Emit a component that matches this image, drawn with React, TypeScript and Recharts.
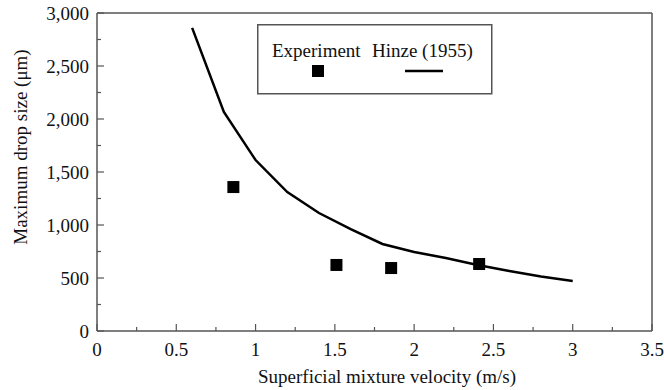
import { ComposedChart, Line, Scatter, XAxis, YAxis, ReferenceLine } from 'recharts';

// Hinze (1955) correlation curve
const hinzeVelocity = [0.6, 0.8, 1.0, 1.2, 1.4, 1.6, 1.8, 2.0, 2.2, 2.4, 2.6, 2.8, 3.0];
const hinzeSize = [2860, 2066, 1613, 1311, 1113, 962, 821, 745, 689, 623, 566, 515, 472];

// measured points
const expVelocity = [0.86, 1.51, 1.855, 2.41];
const expSize = [1358, 623, 594, 632];

const xTicks = [0, 0.25, 0.5, 0.75, 1, 1.25, 1.5, 1.75, 2, 2.25, 2.5, 2.75, 3, 3.25, 3.5];
const yTicks = [0, 250, 500, 750, 1000, 1250, 1500, 1750, 2000, 2250, 2500, 2750, 3000];

const hinzeData = hinzeVelocity.map((x, i) => ({ x, y: hinzeSize[i] }));
const expData = expVelocity.map((x, i) => ({ x, y: expSize[i] }));

const FONT = "'Liberation Serif', 'Times New Roman', serif";
const AXIS = '#555';
const txt = { fontFamily: FONT, fontSize: 19, fill: '#111' };

const XTick = (props: any) => {
  const { x, y, payload } = props;
  const major = payload.value % 0.5 === 0;
  return (
    <g>
      <line x1={x} x2={x} y1={y} y2={y - (major ? 7 : 4)} stroke={AXIS} strokeWidth={1.2} />
      {major && (
        <text x={x} y={y + 25} textAnchor="middle" style={txt}>
          {payload.value}
        </text>
      )}
    </g>
  );
};

const YTick = (props: any) => {
  const { x, y, payload } = props;
  const major = payload.value % 500 === 0;
  const ax = x + 8;
  return (
    <g>
      <line x1={ax} x2={ax + (major ? 7 : 4)} y1={y} y2={y} stroke={AXIS} strokeWidth={1.2} />
      {major && (
        <text x={x} y={y + 6.5} textAnchor="end" style={txt}>
          {payload.value.toLocaleString('en-US')}
        </text>
      )}
    </g>
  );
};

const LegendBox = () => (
  <svg width={236} height={71} style={{ display: 'block' }}>
    <rect x={0.75} y={0.75} width={234} height={69} fill="#fff" stroke={AXIS} strokeWidth={1.5} />
    <text x={15} y={33} style={txt}>Experiment</text>
    <text x={115} y={33} style={txt}>Hinze (1955)</text>
    <rect x={55} y={41} width={12} height={12} fill="#000" />
    <line x1={148} x2={186} y1={47} y2={47} stroke="#000" strokeWidth={2.5} />
  </svg>
);

const Square = (props: any) => {
  const { cx, cy } = props;
  return <rect x={cx - 6} y={cy - 6} width={12} height={12} fill="#000" />;
};

export default function App() {
  return (
    <div style={{ position: 'absolute', left: 0, top: 0, width: 664, height: 390, fontFamily: FONT }}>
      <ComposedChart width={664} height={390} margin={{ top: 13, right: 12, left: 0, bottom: 0 }}>
        <XAxis
          type="number"
          dataKey="x"
          domain={[0, 3.5]}
          ticks={xTicks}
          interval={0}
          height={59}
          tickSize={0}
          tickMargin={0}
          tickLine={false}
          tick={<XTick />}
          stroke={AXIS}
          strokeWidth={1.5}
          allowDataOverflow
          label={{
            content: () => (
              <text x={387} y={383} textAnchor="middle" style={txt}>
                Superficial mixture velocity (m/s)
              </text>
            ),
          }}
        />
        <YAxis
          type="number"
          dataKey="y"
          domain={[0, 3000]}
          ticks={yTicks}
          interval={0}
          width={97}
          tickSize={0}
          tickMargin={8}
          tickLine={false}
          tick={<YTick />}
          stroke={AXIS}
          strokeWidth={1.5}
          allowDataOverflow
          label={{
            content: () => (
              <text x={27} y={147} transform="rotate(-90 27 147)" textAnchor="middle" style={txt}>
                Maximum drop size (μm)
              </text>
            ),
          }}
        />
        <ReferenceLine y={3000} stroke={AXIS} strokeWidth={1.5} />
        <ReferenceLine x={3.5} stroke={AXIS} strokeWidth={1.5} />
        <Line
          data={hinzeData}
          dataKey="y"
          name="Hinze (1955)"
          type="linear"
          stroke="#000"
          strokeWidth={2.5}
          dot={false}
          isAnimationActive={false}
        />
        <Scatter data={expData} dataKey="y" name="Experiment" shape={<Square />} isAnimationActive={false} />
      </ComposedChart>
      <div style={{ position: 'absolute', left: 257, top: 24 }}>
        <LegendBox />
      </div>
    </div>
  );
}
